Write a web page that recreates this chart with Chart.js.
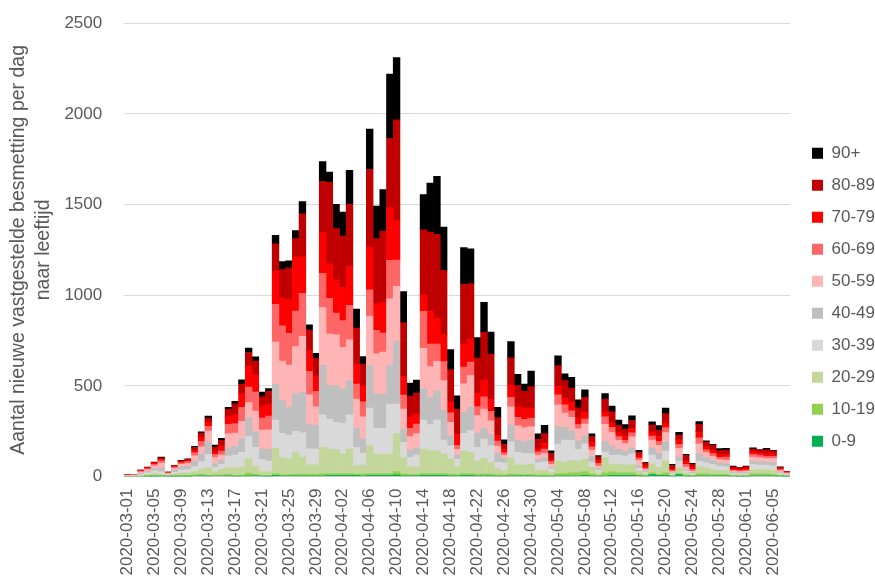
<!DOCTYPE html>
<html>
<head>
<meta charset="utf-8">
<title>Nieuwe besmettingen per leeftijd</title>
<script src="https://cdn.jsdelivr.net/npm/chart.js@4.4.1/dist/chart.umd.min.js"></script>
<style>
  html, body { margin: 0; padding: 0; background: #ffffff; }
  #wrap { width: 875px; height: 580px; }
</style>
</head>
<body>
<div id="wrap"><canvas id="ageChart" width="875" height="580"></canvas></div>
<script>
// Days from 2020-03-01 up to 2020-06-07
const firstDay = Date.UTC(2020, 2, 1);
const dayCount = 99;
const dates = [];
for (let i = 0; i < dayCount; i++) {
    dates.push(new Date(firstDay + i * 86400000).toISOString().slice(0, 10));
}
const labelEvery = 4;

// Age groups, bottom of the stack first
const ageGroups = ['0-9', '10-19', '20-29', '30-39', '40-49', '50-59', '60-69', '70-79', '80-89', '90+'];
const ageColors = ['#00b050', '#92d050', '#c4d79b', '#d9d9d9', '#bfbfbf', '#ffb5b5', '#ff6666', '#ff0000', '#c00000', '#000000'];

// New cases per day for each age group
const age0_9 = [0,0,0,1,1,2,1,1,1,1, 3,4,2,3,3,4,2,2,4,4, 2,1,6,4,4,4,4,4,4,4, 6,6,6,6,6,4,6,6,6,6,
    9,4,4,4,6,6,6,6,4,4, 6,6,4,4,4,2,2,4,4,4, 4,2,2,2,4,4,4,4,6,4, 2,4,6,6,6,7,4,2,11,7,
    7,2,11,2,2,4,4,4,4,4, 2,1,1,4,4,4,4,2,1];
const age10_19 = [0,0,2,3,5,5,1,3,4,5, 6,8,6,7,6,8,4,6,15,8, 4,4,11,6,6,8,9,7,8,13, 11,11,11,11,7,9,11,11,11,11,
    18,9,7,7,11,11,11,11,9,7, 11,11,9,9,9,7,6,9,7,7, 7,6,7,4,13,13,17,17,22,11, 4,17,20,15,15,13,7,4,9,7,
    13,2,6,6,2,11,11,7,7,7, 2,2,2,11,11,11,7,4,2];
const age20_29 = [2,2,5,8,12,6,3,9,14,14, 18,28,40,18,31,37,42,44,82,44, 21,23,138,95,86,120,95,53,53,144,
    134,131,110,134,46,50,153,107,107,107, 210,92,42,42,134,125,125,107,83,42, 125,116,74,88,64,35,22,92,52,52,
    57,26,26,17,70,61,68,64,68,37, 15,83,41,46,42,46,18,7,52,37, 68,6,31,13,7,39,33,28,22,22, 7,6,7,24,24,24,22,7,4];
const age30_39 = [2,2,5,8,12,13,4,10,16,18, 28,42,74,22,28,64,71,82,120,105, 67,57,157,133,133,118,133,89,86,179,
    166,151,166,188,101,66,208,142,142,276, 162,83,52,66,160,144,169,77,74,42, 96,120,74,105,92,35,46,87,70,64,
    59,42,46,18,92,123,111,64,83,28, 15,31,50,52,50,59,18,9,46,42, 52,6,37,9,6,31,28,28,24,20, 6,6,6,28,24,24,26,6,4];
const age40_49 = [2,2,6,9,14,22,4,11,18,18, 31,41,68,22,22,46,48,76,105,86, 57,67,195,184,152,205,224,133,133,273,
    184,203,190,190,107,77,234,190,190,212, 350,74,41,41,175,151,162,166,55,24, 116,129,77,61,64,52,24,92,68,66,
    74,18,24,9,98,70,52,50,46,31, 9,61,52,31,28,33,13,7,41,37, 52,4,22,9,6,41,28,22,18,17, 6,6,6,18,18,18,18,6,3];
const age50_59 = [1,2,6,8,14,26,4,11,14,16, 28,41,61,33,29,77,72,95,82,114, 105,105,234,215,234,261,308,165,101,319,
    285,280,230,225,160,123,271,221,230,368, 300,110,74,77,221,169,162,162,74,31, 157,175,98,105,74,37,18,101,79,77,
    74,24,22,18,118,79,74,64,64,35, 13,92,74,50,41,61,29,9,42,42, 50,7,48,13,7,55,28,22,18,20, 7,6,7,22,22,18,22,7,4];
const age60_69 = [1,2,6,7,10,13,3,7,9,10, 18,29,26,18,22,52,53,76,86,105, 67,76,208,194,175,196,238,129,84,188,
    197,120,147,190,83,83,147,129,105,212, 145,77,46,52,204,125,96,105,52,22, 92,74,50,68,52,28,13,52,46,46,
    48,18,24,15,55,46,37,24,28,18, 15,41,28,20,18,22,13,9,22,22, 28,7,22,15,9,33,15,15,13,17, 6,6,6,15,15,13,13,6,4];
const age70_79 = [1,1,4,4,6,7,3,5,6,7, 13,22,24,18,28,42,51,76,114,95, 61,67,182,152,186,299,200,114,82,227,
    190,180,184,217,110,88,236,147,171,291, 217,103,61,55,90,179,142,149,59,61, 129,129,74,92,68,31,18,68,59,61,
    55,17,31,13,48,37,46,37,37,28, 18,28,24,22,24,24,15,13,22,28, 24,9,28,18,13,33,17,18,15,15, 7,7,9,15,13,13,13,6,4];
const age80_89 = [1,1,2,3,4,9,2,4,5,6, 15,24,22,22,31,41,57,53,76,76, 57,70,153,158,175,101,238,114,99,280,
    451,285,282,341,199,120,427,359,392,381, 556,295,116,116,359,438,462,354,180,138, 328,304,193,263,249,98,28,149,116,92,
    118,52,55,31,114,96,79,55,83,29, 18,70,63,41,37,44,18,15,39,33, 53,18,24,31,17,41,26,28,22,24, 11,9,11,15,15,22,17,7,3];
const age90plus = [0,0,0,1,2,5,0,1,2,2, 7,7,11,11,11,11,15,23,25,23, 25,15,46,44,38,44,67,29,29,110,
    55,134,133,186,105,42,223,179,228,355, 343,173,72,72,195,271,320,238,110,74, 203,192,114,166,120,57,26,90,63,41,
    85,31,46,15,53,37,59,44,41,15, 7,31,31,28,26,26,9,4,18,26, 31,6,15,6,4,15,7,6,11,9, 4,1,2,6,2,9,2,2,0];

const yTicks = [0, 500, 1000, 1500, 2000, 2500];
const yTitle = ['Aantal nieuwe vastgestelde besmetting per dag', 'naar leeftijd'];

const series = [age0_9, age10_19, age20_29, age30_39, age40_49, age50_59, age60_69, age70_79, age80_89, age90plus];

const textColor = '#595959';
const fontFamily = '"Liberation Sans", Arial, sans-serif';

// Moves the legend a little to the right of the plot edge
const legendNudge = {
    id: 'legendNudge',
    afterLayout(chart) {
        const lg = chart.legend;
        lg.left += 7;
        lg.right += 7;
        lg.top -= 4;
        lg.bottom -= 4;
    }
};

document.addEventListener('DOMContentLoaded', function() {
    const ctx = document.getElementById('ageChart');

    const datasets = ageGroups.map((name, i) => ({
        label: name,
        data: series[i],
        backgroundColor: ageColors[i],
        borderWidth: 0,
        barPercentage: 1,
        categoryPercentage: 1
    }));

    new Chart(ctx, {
        type: 'bar',
        data: { labels: dates, datasets: datasets },
        plugins: [legendNudge],
        options: {
            responsive: false,
            animation: false,
            layout: { padding: { top: 15, right: 0, bottom: -7.5, left: 0 } },
            plugins: {
                tooltip: { enabled: false },
                legend: {
                    position: 'right',
                    reverse: true,
                    maxWidth: 85,
                    labels: {
                        boxWidth: 11,
                        boxHeight: 11,
                        padding: 15,
                        color: textColor,
                        font: { family: fontFamily, size: 17 }
                    }
                }
            },
            scales: {
                x: {
                    stacked: true,
                    grid: { display: false, drawTicks: false },
                    border: { display: false },
                    ticks: {
                        autoSkip: false,
                        minRotation: 90,
                        maxRotation: 90,
                        padding: 12,
                        color: textColor,
                        font: { family: fontFamily, size: 17 },
                        callback: function(value, index) {
                            return index % labelEvery === 0 ? dates[index] : '';
                        }
                    }
                },
                y: {
                    stacked: true,
                    min: yTicks[0],
                    max: yTicks[yTicks.length - 1],
                    afterBuildTicks: function(axis) {
                        axis.ticks = yTicks.map(v => ({ value: v }));
                    },
                    grid: {
                        color: '#d9d9d9',
                        lineWidth: 1,
                        drawTicks: true,
                        tickLength: 9,
                        tickColor: 'rgba(0,0,0,0)'
                    },
                    border: { display: false },
                    ticks: {
                        padding: 13,
                        color: textColor,
                        font: { family: fontFamily, size: 17 },
                        callback: function(value) {
                            return String(value);
                        }
                    },
                    title: {
                        display: true,
                        text: yTitle,
                        color: textColor,
                        padding: { top: 6, bottom: -4.5 },
                        font: { family: fontFamily, size: 19.5, lineHeight: 1.28 }
                    }
                }
            }
        }
    });
});
</script>
</body>
</html>
